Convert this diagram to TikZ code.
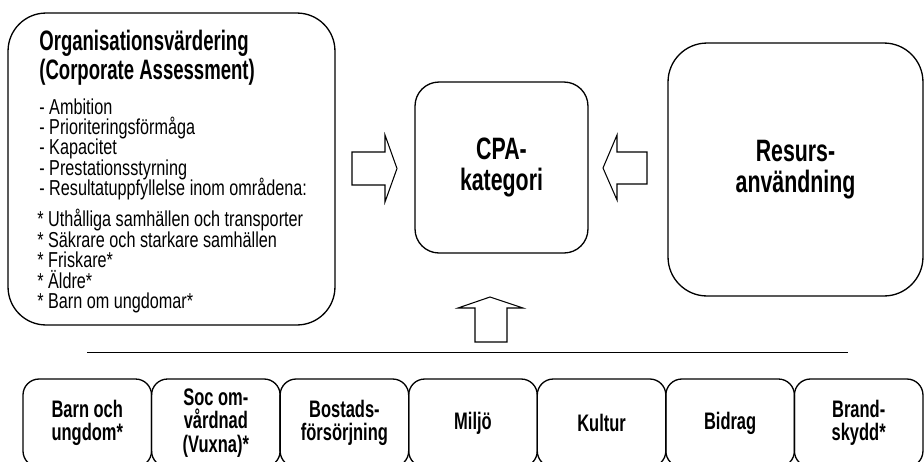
\documentclass[tikz,border=0pt]{standalone}
\usepackage{fontspec}
\setmainfont{Liberation Sans}[FakeStretch=0.66]
\newfontfamily\listfont{Liberation Sans}[FakeStretch=0.75]
\newfontfamily\catfont{Liberation Sans}[FakeStretch=0.69]

\tikzset{
  box/.style={draw, line width=0.75pt, inner sep=0pt, align=center},
  big text/.style={font=\catfont\fontsize{17.6}{17.8}\selectfont\bfseries},
  title text/.style={anchor=base west, inner sep=0pt, font=\fontsize{16}{16}\selectfont\bfseries},
  list text/.style={anchor=base west, inner sep=0pt, font=\listfont\fontsize{12.3}{12}\selectfont},
  catbox/.style={box, rounded corners=0.32cm, minimum width=2.5714cm, minimum height=1.76cm,
    font=\catfont\fontsize{13.6}{13.3}\selectfont\bfseries},
  blockarrow/.style={draw, line width=0.6pt, line join=miter}
}

\begin{document}
\begin{tikzpicture}[x=0.02cm, y=-0.02cm]
\useasboundingbox (0,0) rectangle (924,461);
\clip (0,0) rectangle (924,461);

% the three upper boxes
\node [box, rounded corners=0.76cm, minimum width=6.54cm, minimum height=6.24cm] (org) at (171.5,169) {};
\node [box, big text, rounded corners=0.48cm, minimum width=3.46cm, minimum height=3.42cm] (cpa) at (501.5,167.5) {CPA-\\kategori};
\node [box, big text, rounded corners=0.78cm, minimum width=5.1cm, minimum height=5.06cm] (res) at (795.5,169.5) {Resurs-\\användning};

% text of the assessment box
\foreach \l [count=\i] in {Organisationsvärdering, {(Corporate Assessment)}}
  \node [title text] (title-\i) at (39,22.4+28.3*\i) {\l};

\foreach \l [count=\i] in {Ambition, Prioriteringsförmåga, Kapacitet, Prestationsstyrning, Resultatuppfyllelse inom områdena:}
  \node [list text] (crit-\i) at (39,93.6+20.4*\i) {- \l};

\foreach \l [count=\i] in {Uthålliga samhällen och transporter, Säkrare och starkare samhällen, Friskare*, Äldre*, Barn om ungdomar*}
  \node [list text] (area-\i) at (37,205.9+20.6*\i) {* \l};

% block arrows into the CPA box
\coordinate (from-org) at (352,168.5);
\coordinate (from-res) at (647,168);
\coordinate (from-cat) at (491,342);

\draw [blockarrow] (from-org) -- ++(0,-16.5) -- ++(33,0) -- ++(0,-17) -- ++(12,33.5)
  -- ++(-12,33.5) -- ++(0,-17) -- ++(-33,0) -- cycle;
\draw [blockarrow] (from-res) -- ++(0,-16) -- ++(-30,0) -- ++(0,-17) -- ++(-14,33)
  -- ++(14,32) -- ++(0,-16) -- ++(30,0) -- cycle;
\draw [blockarrow] (from-cat) -- ++(-16,0) -- ++(0,-34) -- ++(-17,0) -- ++(32,-11)
  -- ++(33,11) -- ++(-16,0) -- ++(0,34) -- cycle;

% separator
\draw [line width=0.5pt] (87,352) -- (848,352);

% service areas
\foreach \t [count=\i] in {{Barn och\\ungdom*}, {Soc om-\\vårdnad\\(Vuxna)*}, {Bostads-\\försörjning},
    Miljö, Kultur, Bidrag, {Brand-\\skydd*}}
  \node [catbox] (cat-\i) at ({128.57*\i-41.3},423) {\t};

\end{tikzpicture}
\end{document}
